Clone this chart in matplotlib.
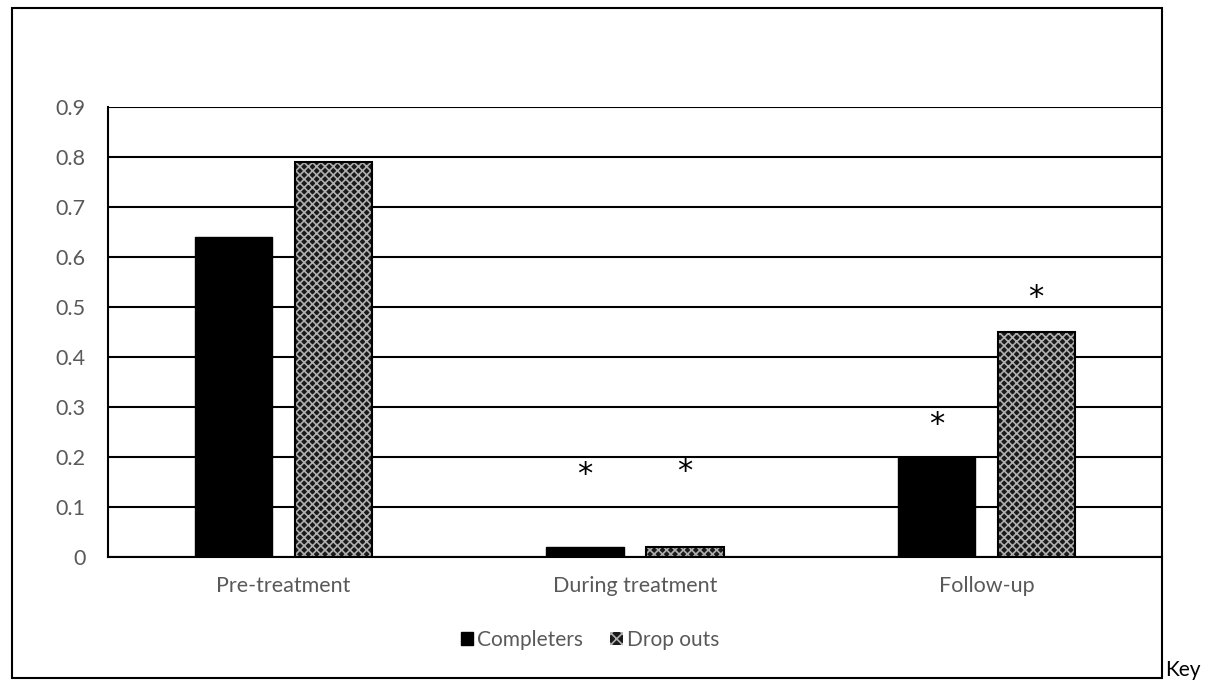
import matplotlib
matplotlib.use("Agg")
import matplotlib.pyplot as plt
from matplotlib.patches import Rectangle, Patch
import numpy as np

categories = ["Pre-treatment", "During treatment", "Follow-up"]
completers = [0.64, 0.02, 0.20]
dropouts = [0.79, 0.02, 0.45]
yticks = [0, 0.1, 0.2, 0.3, 0.4, 0.5, 0.6, 0.7, 0.8, 0.9]
ytick_labels = ["0", "0.1", "0.2", "0.3", "0.4", "0.5", "0.6", "0.7", "0.8", "0.9"]
# significance asterisk heights (None = no asterisk)
stars_completers = [None, 0.165, 0.265]
stars_dropouts = [None, 0.17, 0.52]

plt.rcParams['font.family'] = ['Lato', 'DejaVu Sans']
plt.rcParams['hatch.linewidth'] = 1.2

fig = plt.figure(figsize=(12.2, 6.86), dpi=100)
W, H = 1220, 686
ax = fig.add_axes([108 / W, 1 - 557 / H, (1162 - 108) / W, (557 - 107) / H])

x = np.arange(len(categories))
bw = 0.22
off = 0.142
ax.bar(x - off, completers, bw, color="black", edgecolor="black", zorder=3)
ax.bar(x + off, dropouts, bw, color="#1a1a1a", edgecolor="#b0b0b0", hatch="xxxx", linewidth=0, zorder=3)
ax.bar(x + off, dropouts, bw, fill=False, edgecolor="black", linewidth=1.5, zorder=4)

for i, s in enumerate(stars_completers):
    if s is not None:
        ax.text(x[i] - off, s, "*", ha="center", va="center", fontsize=22, color="black",
                family="DejaVu Sans", zorder=5)
for i, s in enumerate(stars_dropouts):
    if s is not None:
        ax.text(x[i] + off, s, "*", ha="center", va="center", fontsize=22, color="black",
                family="DejaVu Sans", zorder=5)

ax.set_xlim(-0.5, 2.5)
ax.set_ylim(0, 0.9)
ax.set_yticks(yticks)
ax.set_yticklabels(ytick_labels)
ax.set_xticks(x)
ax.set_xticklabels(categories)
ax.tick_params(axis="both", length=0, labelsize=15.5, labelcolor="#595959")
ax.tick_params(axis="y", pad=16)
ax.tick_params(axis="x", pad=14)
ax.grid(axis="y", color="black", linewidth=1.5, zorder=0)
ax.set_axisbelow(True)
for side in ["top", "right"]:
    ax.spines[side].set_visible(False)
ax.spines["left"].set_linewidth(1.5)
ax.spines["bottom"].set_linewidth(1.5)

handles = [Patch(facecolor="black", edgecolor="black"),
           Patch(facecolor="#1a1a1a", edgecolor="#b0b0b0", hatch="xxx", linewidth=0)]
leg = fig.legend(handles, ["Completers", "Drop outs"], loc="center",
                 bbox_to_anchor=(590 / W, 1 - 640 / H), ncol=2, frameon=False,
                 fontsize=15, handlelength=0.6, handleheight=0.6,
                 handletextpad=0.2, columnspacing=1.3)
for t in leg.get_texts():
    t.set_color("#595959")

frame = Rectangle((12 / W, 1 - 678 / H), (1162 - 12) / W, (678 - 8) / H,
                  transform=fig.transFigure, fill=False, edgecolor="black", linewidth=1.5)
fig.patches.append(frame)
fig.text(1165 / W, 1 - 676 / H, "Key", fontsize=15, color="black", ha="left", va="baseline")

fig.savefig("out.png", dpi=100)
